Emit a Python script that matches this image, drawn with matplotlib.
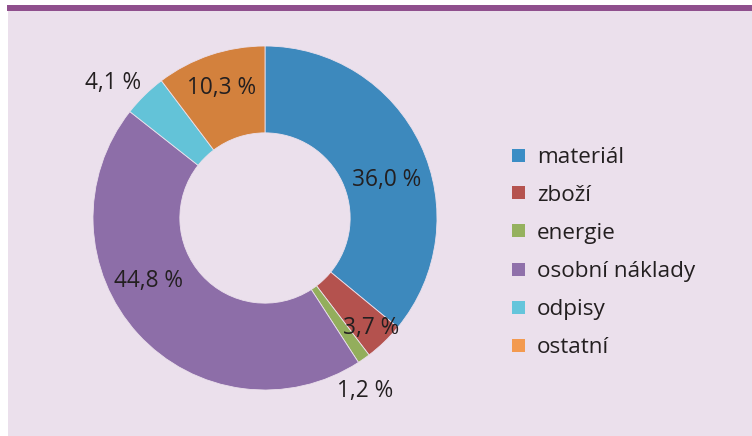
import matplotlib
matplotlib.use("Agg")
import matplotlib.pyplot as plt
from matplotlib.patches import Rectangle
import numpy as np

categories = ["materiál", "zboží", "energie", "osobní náklady", "odpisy", "ostatní"]
values = [36.0, 3.7, 1.2, 44.8, 4.1, 10.3]
value_labels = ["36,0 %", "3,7 %", "1,2 %", "44,8 %", "4,1 %", "10,3 %"]

pie_colors = ["#3d89bd", "#b4524e", "#93ae5c", "#8d6ea8", "#63c3d8", "#d3813d"]
legend_colors = ["#3b8dc5", "#b5534f", "#95b15e", "#8f70aa", "#64c5db", "#f39a4f"]
# per-label placement style: radial distance and angular shift (deg)
label_r = [0.74, 0.89, 1.165, 0.77, 1.18, 0.80]
label_shift = [-8, 0, -5, -14, 4, 0]

W, H = 752, 436
BG = "#ebe0ec"
TXT = "#231f20"
FONT = "Open Sans"

fig = plt.figure(figsize=(W / 100, H / 100), dpi=100, facecolor="white")

# background panel and top bar
fig.patches.append(Rectangle((8 / W, -0.01), 1 - 8 / W, (H - 11) / H + 0.01,
                             transform=fig.transFigure, facecolor=BG,
                             edgecolor="none", zorder=-2))
fig.patches.append(Rectangle((7 / W, (H - 11) / H), 1 - 7 / W, 5.5 / H,
                             transform=fig.transFigure, facecolor="#8f4f8d",
                             edgecolor="none", zorder=-2))

cx, cy, R = 265, 218, 172
ax = fig.add_axes([(cx - R) / W, (H - cy - R) / H, 2 * R / W, 2 * R / H])
ax.set_zorder(1)
ax.set_facecolor("none")
wedges, _ = ax.pie(values, colors=pie_colors, startangle=90, counterclock=False,
                   radius=1.0, wedgeprops=dict(width=0.505, edgecolor=BG, linewidth=0.6))
ax.set_xlim(-1, 1)
ax.set_ylim(-1, 1)
ax.axis("off")

for w, lab, r, sh in zip(wedges, value_labels, label_r, label_shift):
    mid = np.deg2rad((w.theta1 + w.theta2) / 2 + sh)
    ax.text(r * np.cos(mid), r * np.sin(mid), lab, ha="center", va="center",
            fontsize=16.3, color=TXT, family=FONT, clip_on=False)

# legend
y0, dy = 155, 38
for i, (cat, col) in enumerate(zip(categories, legend_colors)):
    y = y0 + i * dy
    fig.patches.append(Rectangle((512 / W, (H - y - 6.5) / H), 13 / W, 13 / H,
                                 transform=fig.transFigure, facecolor=col,
                                 edgecolor="none", zorder=2))
    fig.text(537 / W, (H - y) / H, cat, ha="left", va="center_baseline",
             fontsize=16.2, color=TXT, family=FONT)

fig.savefig("out.png", dpi=100, facecolor=fig.get_facecolor())
